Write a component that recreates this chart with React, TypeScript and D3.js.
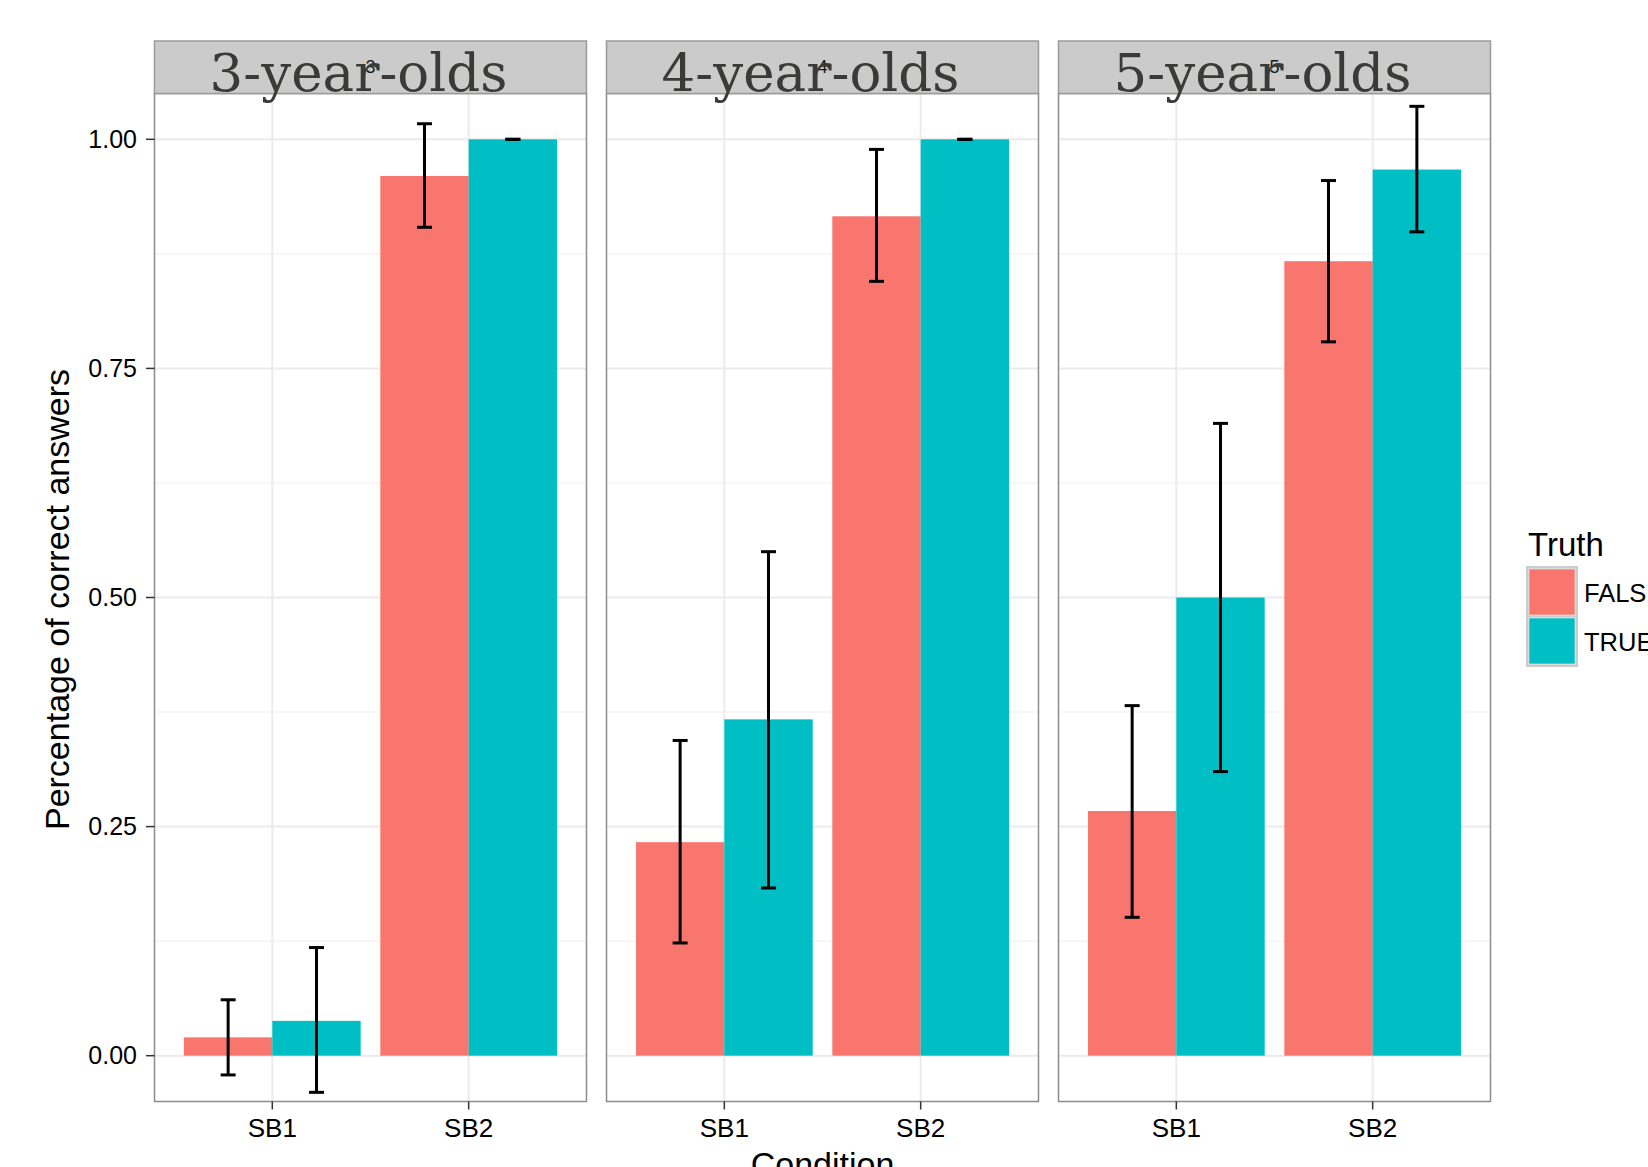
import React from 'react';
import * as d3 from 'd3';

const ageGroups = ['3-year-olds', '4-year-olds', '5-year-olds'];
const stripTags = ['3', '4', '5'];
const conditions = ['SB1', 'SB2'];
const truthLevels = ['FALSE', 'TRUE'];
const yTicks = [0, 0.25, 0.5, 0.75, 1];
const yMinor = [0.125, 0.375, 0.625, 0.875];

// [age][condition]
const meanFalse = [[0.02, 0.96], [0.233, 0.916], [0.267, 0.867]];
const meanTrue = [[0.038, 1.0], [0.367, 1.0], [0.5, 0.967]];
const lowFalse = [[-0.021, 0.904], [0.123, 0.845], [0.151, 0.779]];
const highFalse = [[0.061, 1.017], [0.344, 0.989], [0.382, 0.955]];
const lowTrue = [[-0.04, 1.0], [0.183, 1.0], [0.31, 0.899]];
const highTrue = [[0.118, 1.0], [0.55, 1.0], [0.69, 1.036]];

const colors = { FALSE: '#F8766D', TRUE: '#00BFC4' };
const sans = '"Liberation Sans", Arial, sans-serif';

const W = 1648;
const H = 1167;
const stripTop = 41;
const panelTop = 93.5;
const panelBottom = 1101.5;

export default function App() {
  const panelX = d3.scaleBand().domain(ageGroups).range([154.5, 1490.5]).paddingInner(0.0443);
  const pw = panelX.bandwidth();
  const xCond = d3.scalePoint().domain(conditions).range([0, pw]).padding(0.6);
  const step = xCond.step();
  const xTruth = d3.scaleBand().domain(truthLevels).range([-0.45 * step, 0.45 * step]);
  const y = d3.scaleLinear().domain([-0.05, 1.05]).range([panelBottom, panelTop]);
  const fmt = d3.format('.2f');
  const capHalf = 7.5;

  const series = [
    { key: 'FALSE', mean: meanFalse, low: lowFalse, high: highFalse },
    { key: 'TRUE', mean: meanTrue, low: lowTrue, high: highTrue },
  ];

  return (
    <svg width={W} height={H} style={{ position: 'absolute', left: 0, top: 0, background: '#fff' }}>
      {ageGroups.map((age, ai) => {
        const x0 = panelX(age)!;
        return (
          <g key={age} transform={`translate(${x0},0)`}>
            <rect x={0} y={panelTop} width={pw} height={panelBottom - panelTop} fill="#fff" />
            {yMinor.map((v) => (
              <line key={v} x1={0} x2={pw} y1={y(v)} y2={y(v)} stroke="#F4F4F4" strokeWidth={1.5} />
            ))}
            {yTicks.map((v) => (
              <line key={v} x1={0} x2={pw} y1={y(v)} y2={y(v)} stroke="#EBEBEB" strokeWidth={2} />
            ))}
            {conditions.map((c) => (
              <line key={c} x1={xCond(c)} x2={xCond(c)} y1={panelTop} y2={panelBottom} stroke="#EBEBEB" strokeWidth={2} />
            ))}
            {conditions.map((c, ci) =>
              series.map((s) => {
                const bx = xCond(c)! + xTruth(s.key)!;
                const v = s.mean[ai][ci];
                return (
                  <rect key={c + s.key} x={bx} width={xTruth.bandwidth()} y={y(Math.max(v, 0))}
                    height={Math.abs(y(0) - y(v))} fill={colors[s.key as 'FALSE' | 'TRUE']} />
                );
              })
            )}
            {conditions.map((c, ci) =>
              series.map((s) => {
                const cx = xCond(c)! + xTruth(s.key)! + xTruth.bandwidth() / 2;
                const lo = y(s.low[ai][ci]);
                const hi = y(s.high[ai][ci]);
                return (
                  <g key={'e' + c + s.key} stroke="#000" strokeWidth={3}>
                    <line x1={cx} x2={cx} y1={lo} y2={hi} />
                    <line x1={cx - capHalf} x2={cx + capHalf} y1={lo} y2={lo} />
                    <line x1={cx - capHalf} x2={cx + capHalf} y1={hi} y2={hi} />
                  </g>
                );
              })
            )}
            <rect x={0} y={panelTop} width={pw} height={panelBottom - panelTop} fill="none" stroke="#8C8C8C" strokeWidth={1.5} />
            {/* x axis */}
            {conditions.map((c) => (
              <g key={'xt' + c}>
                <line x1={xCond(c)} x2={xCond(c)} y1={panelBottom} y2={panelBottom + 8} stroke="#333" strokeWidth={1.5} />
                <text x={xCond(c)} y={1137} textAnchor="middle" fontFamily={sans} fontSize={26} fill="#000">{c}</text>
              </g>
            ))}
            {/* strip */}
            <rect x={0} y={stripTop} width={pw} height={panelTop - stripTop} fill="#CBCBCB" stroke="#9A9A9A" strokeWidth={1.5} />
            <text x={pw / 2} y={stripTop + 32} textAnchor="middle" fontFamily={sans} fontSize={18} fill="#1A1A1A">{stripTags[ai]}</text>
            <text x={pw / 2 - 12} y={91} textAnchor="middle" fontFamily='"DejaVu Serif", serif' fontSize={53} fill="#3A3A38">{age}</text>
          </g>
        );
      })}
      {/* y axis */}
      {yTicks.map((v) => (
        <g key={'yt' + v}>
          <line x1={146} x2={154.5} y1={y(v)} y2={y(v)} stroke="#333" strokeWidth={1.5} />
          <text x={137} y={y(v)} dy="0.35em" textAnchor="end" fontFamily={sans} fontSize={25} fill="#000">{fmt(v)}</text>
        </g>
      ))}
      <text transform={`translate(69,${(panelTop + panelBottom) / 2 + 2}) rotate(-90)`} textAnchor="middle" fontFamily={sans} fontSize={34} fill="#000">Percentage of correct answers</text>
      <text x={(154.5 + 1490.5) / 2} y={1176} textAnchor="middle" fontFamily={sans} fontSize={34} fill="#000">Condition</text>
      {/* legend */}
      <text x={1528} y={556} fontFamily={sans} fontSize={33} fill="#000">Truth</text>
      <rect x={1526} y={566} width={52} height={101} fill="#CCCCCC" />
      {truthLevels.map((t, i) => (
        <g key={t} transform={`translate(1526,${566 + i * 49})`}>
          <rect x={2.5} y={2.5} width={47} height={47} fill="#fff" opacity={0.6} />
          <rect x={3.3} y={3.3} width={45.4} height={45.4} fill={colors[t as 'FALSE' | 'TRUE']} />
          <text x={58} y={35.5} fontFamily={sans} fontSize={25.5} fill="#000">{t}</text>
        </g>
      ))}
    </svg>
  );
}
